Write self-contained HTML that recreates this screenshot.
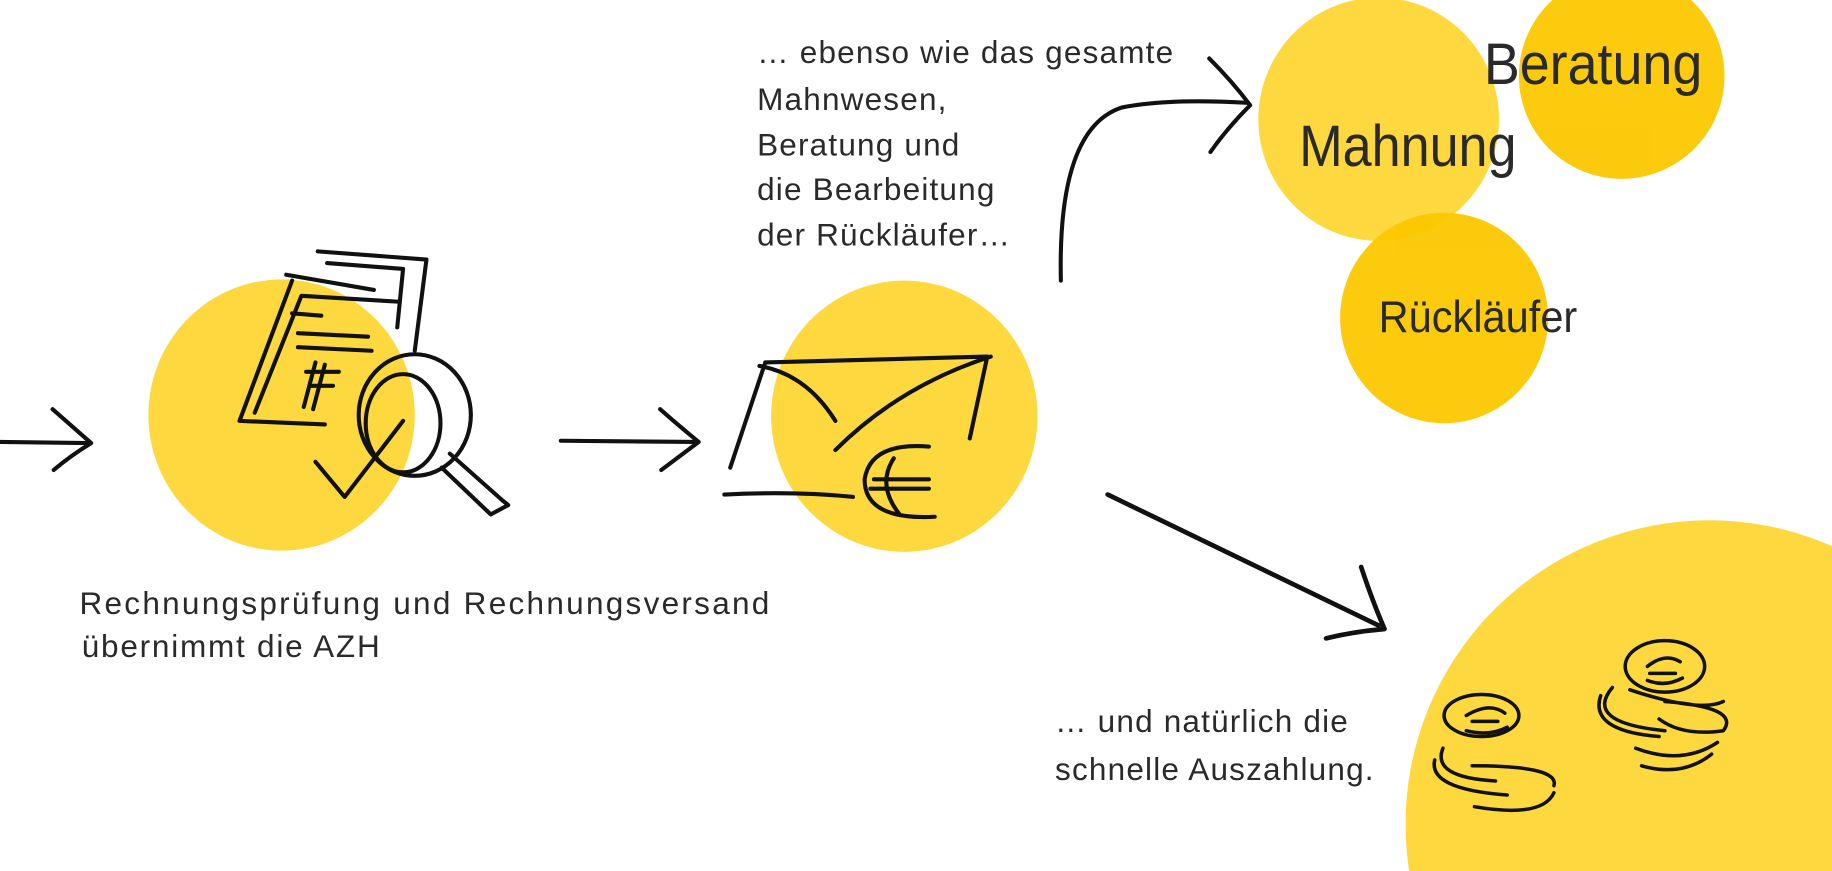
<!DOCTYPE html>
<html><head><meta charset="utf-8"><style>
html,body{margin:0;padding:0;background:#fff;width:1832px;height:871px;overflow:hidden}
svg{display:block;overflow:hidden}
text{font-family:"Liberation Sans Narrow","Liberation Sans",sans-serif;fill:#2a2a2a;font-weight:normal}
</style></head><body>
<svg width="1832" height="871" viewBox="0 0 1568 745" preserveAspectRatio="none">
<g fill="#fdd83e">
<ellipse cx="241" cy="355" rx="114" ry="116"/>
<ellipse cx="774" cy="356" rx="114" ry="116"/>
<ellipse cx="1180" cy="102" rx="103" ry="104"/>
<circle cx="1463" cy="705" r="260"/>
</g>
<g fill="#fcc800" opacity="0.95">
<ellipse cx="1388" cy="65" rx="88" ry="88"/>
<ellipse cx="1236" cy="272" rx="89" ry="90"/>
</g>
<g fill="none" stroke="#111" stroke-width="3.5" stroke-linecap="round" stroke-linejoin="round">
<path d="M0 378 L75 379 M45 350 Q62 365 78 379 Q60 390 46 402"/>
<path d="M480 377 L595 378 M565 350 Q582 365 598 378 Q582 390 566 402"/>
<path d="M908 240 Q905 110 960 92 Q1000 84 1068 88 M1035 50 Q1055 70 1070 90 Q1050 110 1036 130"/>
<path stroke-width="4" d="M948 423 L1180 535 M1165 485 Q1175 515 1185 538 Q1160 540 1135 546"/>
<path d="M245 235 L320 248 M250 240 L205 360 L278 363 M218 353 L258 253 L340 258 M250 268 L275 270 M255 285 L315 288 M255 297 L318 300 M262 318 L290 318 M265 330 L285 330 M270 310 L260 348 M278 312 L268 350 M272 215 L365 222 L355 300 M280 225 L345 230 L340 280"/>
<ellipse cx="355" cy="355" rx="48" ry="52"/>
<ellipse cx="345" cy="362" rx="32" ry="42"/>
<path d="M385 388 L430 428 L435 432 L420 440 L378 400 M270 395 L295 425 L345 360"/>
<path d="M655 310 L845 305 L830 375 M655 310 L625 400 M650 313 Q690 320 715 360 M848 305 Q770 330 715 385 M620 423 Q680 420 730 425"/>
<path d="M795 382 Q745 378 740 410 Q740 445 800 442 M765 392 Q750 415 770 440 M748 410 L795 410 M745 418 L795 418"/>
<g stroke-width="3">
<ellipse cx="1268" cy="612" rx="32" ry="18"/>
<path d="M1255 612 Q1275 600 1288 610 M1260 617 L1282 617 M1255 625 Q1275 630 1290 622"/>
<path d="M1235 640 Q1225 665 1280 668 M1228 650 Q1222 675 1290 680 M1260 655 Q1335 655 1330 672 M1262 690 Q1320 700 1330 678"/>
<ellipse cx="1425" cy="570" rx="34" ry="22"/>
<path d="M1410 570 Q1425 558 1438 566 M1412 576 L1434 576 M1410 582 Q1425 588 1440 580"/>
<path d="M1395 590 Q1455 610 1475 600 M1370 595 Q1360 625 1420 630 M1380 588 Q1355 618 1425 625 M1425 600 Q1490 605 1475 625 Q1440 630 1420 615 M1400 640 Q1440 655 1470 635 M1405 655 Q1440 665 1465 645"/>
</g>
</g>
<g font-size="27">
<text x="648" y="54" letter-spacing="1">… ebenso wie das gesamte</text>
<text x="648" y="94" letter-spacing="1">Mahnwesen,</text>
<text x="648" y="133" letter-spacing="1">Beratung und</text>
<text x="648" y="171" letter-spacing="1">die Bearbeitung</text>
<text x="648" y="210" letter-spacing="1">der Rückläufer…</text>
<text x="68" y="525" letter-spacing="1.5" textLength="592" lengthAdjust="spacing">Rechnungsprüfung und Rechnungsversand</text>
<text x="70" y="562" letter-spacing="1.5">übernimmt die AZH</text>
<text x="903" y="626" letter-spacing="1">… und natürlich die</text>
<text x="903" y="667" letter-spacing="1">schnelle Auszahlung.</text>
</g>
<text x="1270" y="72" font-size="50" textLength="187" lengthAdjust="spacingAndGlyphs">Beratung</text>
<text x="1112" y="142" font-size="50" textLength="186" lengthAdjust="spacingAndGlyphs">Mahnung</text>
<text x="1180" y="284" font-size="38" textLength="170" lengthAdjust="spacingAndGlyphs">Rückläufer</text>
</svg>
</body></html>
